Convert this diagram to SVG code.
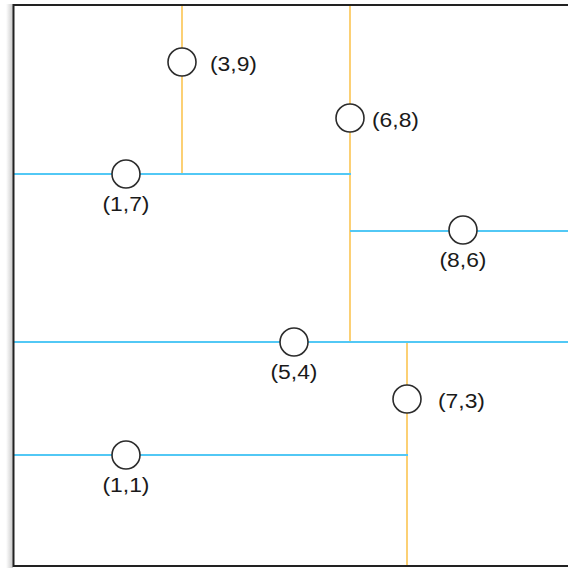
<svg xmlns="http://www.w3.org/2000/svg" width="568" height="568" viewBox="0 0 568 568">
<defs>
<linearGradient id="sh" x1="0" y1="0" x2="1" y2="0">
<stop offset="0" stop-color="#ffffff"/>
<stop offset="1" stop-color="#c8c8c8"/>
</linearGradient>
<style>
.v{stroke:#fbc552;stroke-width:1.6;fill:none}
.h{stroke:#52c8f5;stroke-width:2;fill:none}
.pt{fill:#ffffff;stroke:#2b2b2b;stroke-width:1.6}
.lbl{font-family:"Liberation Sans",Arial,sans-serif;font-size:19.5px;fill:#1a1a1a}
.c{text-anchor:middle}
</style>
</defs>
<rect x="0" y="0" width="568" height="568" fill="#ffffff"/>
<rect x="6" y="4" width="7" height="564" fill="url(#sh)"/>
<g id="connectors">
<line class="v" x1="182" y1="5" x2="182" y2="174"/>
<line class="v" x1="350" y1="5" x2="350" y2="342"/>
<line class="v" x1="407" y1="342" x2="407" y2="566"/>
<line class="h" x1="14" y1="174" x2="351" y2="174"/>
<line class="h" x1="350" y1="231" x2="568" y2="231"/>
<line class="h" x1="14" y1="342" x2="568" y2="342"/>
<line class="h" x1="14" y1="455" x2="408" y2="455"/>
</g>
<path d="M568 5 H13.5 V566 H568" fill="none" stroke="#222" stroke-width="2"/>
<g id="p39"><circle class="pt" cx="182" cy="62" r="14"/><text class="lbl" x="210" y="71" textLength="47" lengthAdjust="spacingAndGlyphs">(3,9)</text></g>
<g id="p68"><circle class="pt" cx="350" cy="118" r="14"/><text class="lbl" x="372" y="127" textLength="47" lengthAdjust="spacingAndGlyphs">(6,8)</text></g>
<g id="p17"><circle class="pt" cx="126" cy="174" r="14"/><text class="lbl c" x="126" y="211" textLength="47" lengthAdjust="spacingAndGlyphs">(1,7)</text></g>
<g id="p86"><circle class="pt" cx="463" cy="230" r="14"/><text class="lbl c" x="463" y="267" textLength="47" lengthAdjust="spacingAndGlyphs">(8,6)</text></g>
<g id="p54"><circle class="pt" cx="294" cy="342" r="14"/><text class="lbl c" x="294" y="379" textLength="47" lengthAdjust="spacingAndGlyphs">(5,4)</text></g>
<g id="p73"><circle class="pt" cx="407" cy="399" r="14"/><text class="lbl" x="438" y="408" textLength="47" lengthAdjust="spacingAndGlyphs">(7,3)</text></g>
<g id="p11"><circle class="pt" cx="126" cy="455" r="14"/><text class="lbl c" x="126" y="492" textLength="47" lengthAdjust="spacingAndGlyphs">(1,1)</text></g>
</svg>
